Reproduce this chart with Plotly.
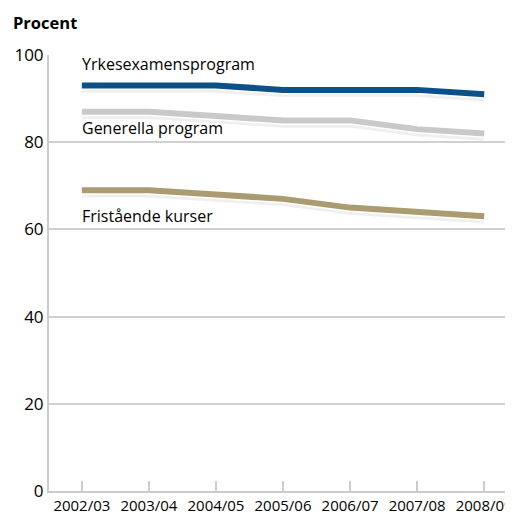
import plotly.graph_objects as go

years = ["2002/03", "2003/04", "2004/05", "2005/06", "2006/07", "2007/08", "2008/09"]
yrkes = [93, 93, 93, 92, 92, 92, 91]
generella = [87, 87, 86, 85, 85, 83, 82]
fristaende = [69, 69, 68, 67, 65, 64, 63]
y_ticks = [0, 20, 40, 60, 80, 100]

series = [
    ("Yrkesexamensprogram", yrkes, "#0b5089"),
    ("Generella program", generella, "#c9c9c9"),
    ("Fristående kurser", fristaende, "#aa9c70"),
]

fig = go.Figure()
for name, vals, col in series:
    # soft shadow
    fig.add_trace(go.Scatter(x=years, y=[v - 0.4 for v in vals], mode="lines",
                             line=dict(color="rgba(120,120,120,0.12)", width=11),
                             hoverinfo="skip", showlegend=False))
    # white outline
    fig.add_trace(go.Scatter(x=years, y=vals, mode="lines",
                             line=dict(color="white", width=9),
                             hoverinfo="skip", showlegend=False))
    fig.add_trace(go.Scatter(x=years, y=vals, mode="lines", name=name,
                             line=dict(color=col, width=6), showlegend=False))

font_family = "'Open Sans', sans-serif"
labels = [
    ("Yrkesexamensprogram", 97.9),
    ("Generella program", 83.2),
    ("Fristående kurser", 63.0),
]
for text, yv in labels:
    fig.add_annotation(x=-0.03, y=yv, xref="x", yref="y", text=text, showarrow=False,
                       xanchor="left", yanchor="middle",
                       font=dict(family=font_family, size=16, color="#000"))

fig.add_annotation(x=-38/464, y=1 + 46/436, xref="paper", yref="paper",
                   text="<b>Procent</b>", showarrow=False,
                   xanchor="left", yanchor="top",
                   font=dict(family=font_family, size=16.5, color="#000"))

# page body has an 8px margin, so the figure is shifted by 8px
fig.update_layout(
    width=505, height=508,
    margin=dict(l=41, r=0, t=47, b=25),
    paper_bgcolor="white", plot_bgcolor="white",
    font=dict(family=font_family, size=15, color="#000"),
    showlegend=False,
)

fig.update_xaxes(type="category", range=[-0.49, 6.4], showgrid=False,
                 showline=True, linecolor="#cccccc", linewidth=2,
                 ticks="inside", ticklen=10, tickcolor="#cccccc", tickwidth=2,
                 tickfont=dict(size=15), fixedrange=True)
fig.update_yaxes(range=[0, 100], tickvals=y_ticks, showgrid=True, gridcolor="#d0d0d0",
                 gridwidth=2, showline=True, linecolor="#cccccc", linewidth=2,
                 ticks="", zeroline=False, tickfont=dict(size=17), fixedrange=True)

fig.write_html("out.html")
